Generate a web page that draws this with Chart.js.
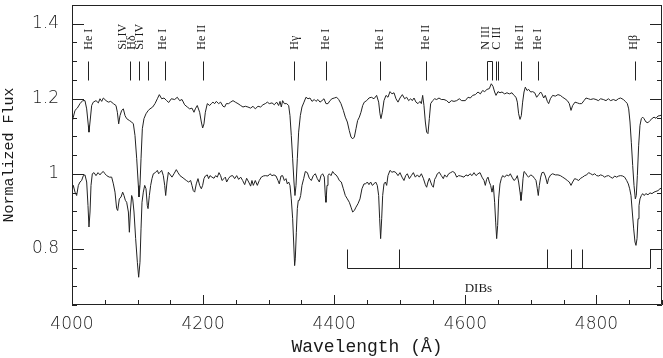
<!DOCTYPE html>
<html>
<head>
<meta charset="utf-8">
<script src="https://cdn.jsdelivr.net/npm/chart.js@4/dist/chart.umd.min.js"></script>
<style>
html,body{margin:0;padding:0;background:#fff;}
canvas{display:block;}
</style>
</head>
<body>
<canvas id="c" width="663" height="358"></canvas>
<script>
// ---- Data ----
const xTickValues = [4000, 4200, 4400, 4600, 4800];
const xTickLabels = ['4000', '4200', '4400', '4600', '4800'];
const yTickValues = [0.8, 1.0, 1.2, 1.4];
const yTickLabels = ['0.8', '1', '1.2', '1.4'];

// [wavelength (Å), normalized flux] — upper spectrum (shown offset)
const upperSpectrum = [
[3999.5,1.133],[4002.0,1.151],[4004.6,1.169],[4008.1,1.175],[4012.2,1.187],[4016.3,1.195],[4019.8,1.195],[4022.4,1.173],[4024.9,1.129],[4025.9,1.111],[4027.5,1.138],[4030.0,1.182],[4032.5,1.191],[4036.6,1.195],[4040.2,1.189],[4042.7,1.200],[4045.3,1.193],[4047.8,1.202],[4051.9,1.195],[4055.4,1.191],[4059.0,1.193],[4063.1,1.187],[4067.1,1.182],[4069.2,1.164],[4071.2,1.133],[4073.2,1.155],[4075.8,1.169],[4078.3,1.173],[4080.9,1.155],[4083.4,1.147],[4087.5,1.142],[4091.0,1.138],[4093.6,1.133],[4096.1,1.102],[4098.7,1.040],[4101.2,0.969],[4102.2,0.938],[4103.7,0.969],[4105.3,1.040],[4107.3,1.120],[4109.8,1.147],[4112.9,1.160],[4116.4,1.169],[4119.0,1.173],[4123.1,1.178],[4126.6,1.187],[4130.2,1.200],[4133.2,1.211],[4136.8,1.200],[4140.4,1.202],[4144.4,1.195],[4147.5,1.190],
[4151.5,1.200],[4156.6,1.198],[4160.6,1.204],[4164.2,1.195],[4167.8,1.198],[4171.8,1.184],[4175.9,1.178],[4179.5,1.173],[4183.0,1.175],[4186.1,1.164],[4188.1,1.173],[4191.1,1.182],[4194.7,1.164],[4197.3,1.138],[4199.3,1.122],[4201.3,1.133],[4203.4,1.164],[4206.4,1.187],[4210.0,1.182],[4212.5,1.187],[4215.0,1.191],[4217.6,1.187],[4220.1,1.193],[4223.7,1.187],[4226.7,1.191],[4230.3,1.180],[4232.8,1.178],[4235.4,1.187],[4238.9,1.187],[4242.0,1.191],[4245.6,1.195],[4249.1,1.191],[4253.2,1.187],[4257.3,1.182],[4260.8,1.178],[4264.4,1.180],[4268.4,1.178],[4272.5,1.175],[4276.1,1.180],[4279.6,1.173],[4283.7,1.180],[4287.8,1.178],[4291.3,1.184],[4294.9,1.187],
[4298.0,1.191],[4301.0,1.187],[4305.1,1.189],[4308.6,1.184],[4312.2,1.191],[4315.2,1.182],[4317.3,1.193],[4319.3,1.178],[4321.3,1.195],[4323.9,1.187],[4327.4,1.187],[4330.5,1.182],[4332.5,1.155],[4334.5,1.102],[4336.6,1.040],[4338.6,0.978],[4340.1,0.942],[4341.7,0.969],[4343.7,1.040],[4345.7,1.111],[4348.3,1.155],[4350.8,1.178],[4353.9,1.191],[4356.9,1.204],[4360.0,1.200],[4363.0,1.202],[4366.1,1.193],[4369.6,1.198],[4372.2,1.193],[4375.2,1.198],[4378.3,1.191],[4381.3,1.195],[4384.4,1.200],[4387.4,1.187],[4390.5,1.187],[4393.5,1.195],[4396.6,1.200],[4400.1,1.202],[4403.7,1.204],[4406.8,1.198],[4410.3,1.187],[4413.9,1.169],[4416.9,1.151],[4420.0,1.138],[4423.0,1.115],[4425.6,1.098],[4428.1,1.093],[4430.7,1.098],[4433.2,1.120],[4435.7,1.142],[4438.3,1.151],[4440.8,1.164],[4443.4,1.182],[4445.9,1.191],
[4449.5,1.195],[4453.0,1.202],[4456.6,1.204],[4460.7,1.200],[4464.7,1.209],[4467.8,1.191],[4469.8,1.160],[4471.3,1.147],[4473.4,1.164],[4475.9,1.195],[4479.0,1.209],[4482.0,1.204],[4485.1,1.219],[4488.1,1.213],[4491.2,1.216],[4494.2,1.200],[4497.3,1.191],[4500.3,1.202],[4503.9,1.211],[4507.4,1.200],[4510.5,1.204],[4513.5,1.195],[4516.6,1.200],[4519.1,1.195],[4521.7,1.202],[4524.7,1.191],[4527.8,1.187],[4530.8,1.193],[4532.9,1.187],[4534.9,1.209],[4536.9,1.182],[4539.0,1.138],[4541.0,1.111],[4543.0,1.107],[4545.1,1.147],[4547.1,1.187],[4550.2,1.195],[4553.2,1.200],[4556.3,1.198],[4559.8,1.202],[4563.4,1.198],[4567.4,1.198],[4571.5,1.195],[4575.1,1.189],[4578.6,1.195],[4582.7,1.193],[4586.8,1.195],[4590.8,1.200],[4594.4,1.195],
[4600.0,1.195],[4604.1,1.204],[4607.6,1.202],[4611.2,1.209],[4615.2,1.211],[4619.3,1.218],[4622.9,1.213],[4626.4,1.222],[4629.5,1.219],[4633.0,1.225],[4636.6,1.227],[4639.6,1.240],[4642.2,1.233],[4644.7,1.218],[4646.8,1.209],[4649.8,1.219],[4652.9,1.216],[4655.9,1.218],[4660.0,1.213],[4663.5,1.216],[4667.1,1.213],[4671.2,1.216],[4674.2,1.209],[4677.3,1.204],[4679.3,1.191],[4681.3,1.160],[4683.4,1.145],[4685.4,1.155],[4687.4,1.191],[4689.5,1.218],[4691.5,1.231],[4694.1,1.222],[4696.6,1.225],[4699.7,1.218],[4702.7,1.219],[4705.8,1.216],[4708.8,1.204],[4711.9,1.211],[4714.9,1.218],[4716.9,1.213],[4719.5,1.202],[4722.0,1.209],[4725.1,1.193],[4727.1,1.187],[4729.7,1.200],[4733.2,1.209],[4737.3,1.207],[4741.3,1.211],[4744.9,1.209],
[4748.5,1.204],[4752.0,1.200],[4755.6,1.195],[4758.6,1.187],[4761.2,1.169],[4763.7,1.182],[4767.3,1.191],[4770.8,1.189],[4773.9,1.187],[4777.5,1.187],[4781.0,1.195],[4784.1,1.202],[4787.6,1.200],[4791.2,1.198],[4795.3,1.200],[4799.3,1.198],[4802.9,1.195],[4806.4,1.200],[4810.5,1.198],[4814.6,1.195],[4818.1,1.200],[4821.7,1.195],[4825.8,1.198],[4829.8,1.195],[4833.4,1.200],[4836.9,1.202],[4841.0,1.198],[4844.1,1.193],[4847.1,1.187],[4849.2,1.173],[4851.2,1.138],[4853.2,1.084],[4855.3,1.022],[4857.3,0.969],[4859.3,0.933],[4860.8,0.942],[4862.4,0.995],[4864.4,1.076],[4866.4,1.129],[4868.5,1.147],[4870.5,1.151],[4872.5,1.147],[4875.6,1.138],[4878.6,1.136],[4881.7,1.142],[4884.7,1.147],[4887.8,1.151],[4890.8,1.148],[4893.9,1.154],[4896.9,1.155],[4900.0,1.157]
];

// [wavelength (Å), normalized flux] — lower spectrum
const lowerSpectrum = [
[3999.5,0.951],[4002.0,0.969],[4004.6,0.951],[4007.1,0.942],[4009.7,0.969],[4012.2,0.978],[4014.7,0.982],[4017.3,0.995],[4019.8,0.997],[4022.4,0.978],[4024.4,0.915],[4025.9,0.858],[4027.5,0.898],[4029.0,0.969],[4031.0,1.000],[4033.6,1.003],[4036.6,0.995],[4039.7,1.003],[4042.7,0.997],[4045.3,1.003],[4047.8,1.006],[4050.3,1.000],[4052.9,0.995],[4056.9,0.991],[4060.5,0.991],[4063.1,0.973],[4065.6,0.951],[4068.1,0.907],[4069.7,0.902],[4072.2,0.933],[4074.8,0.938],[4077.3,0.951],[4079.3,0.942],[4081.4,0.929],[4083.4,0.924],[4086.0,0.898],[4087.5,0.844],[4089.0,0.898],[4091.0,0.942],[4092.6,0.933],[4094.6,0.898],[4097.1,0.827],[4099.7,0.764],[4101.7,0.724],[4103.7,0.764],[4105.3,0.853],[4106.8,0.924],[4108.8,0.951],[4110.9,0.969],[4112.9,0.960],[4114.9,0.915],[4116.0,0.907],[4118.0,0.942],[4120.0,0.969],[4122.0,0.987],[4124.1,1.000],[4127.1,1.003],[4130.2,1.009],[4132.2,1.000],[4134.2,1.004],[4136.8,1.009],[4139.3,0.995],[4141.4,0.969],[4142.9,0.942],[4144.9,0.978],[4147.0,1.004],
[4152.5,0.991],[4155.6,1.000],[4159.1,1.011],[4161.7,1.003],[4164.7,0.995],[4167.8,0.991],[4170.8,0.987],[4174.4,0.982],[4177.9,0.978],[4181.0,0.982],[4183.0,0.969],[4185.0,0.955],[4187.1,0.951],[4189.6,0.973],[4192.2,0.987],[4194.7,0.969],[4197.3,0.960],[4199.3,0.969],[4201.3,0.987],[4203.4,0.994],[4206.4,0.997],[4208.4,0.987],[4210.5,0.995],[4213.5,0.991],[4216.6,0.988],[4219.1,0.995],[4221.7,0.991],[4224.2,1.003],[4226.7,0.995],[4228.8,0.982],[4231.8,0.987],[4233.9,0.991],[4235.9,0.978],[4239.0,0.988],[4242.0,0.994],[4245.1,0.995],[4248.1,0.987],[4251.2,0.995],[4254.2,0.985],[4257.3,0.991],[4260.3,0.982],[4263.4,0.971],[4266.4,0.988],[4269.5,0.978],[4272.5,0.967],[4274.5,0.982],[4276.6,0.969],[4279.6,0.982],[4282.7,0.969],[4285.7,0.982],[4288.8,0.991],[4291.8,0.994],[4294.9,0.995],
[4298.9,0.994],[4302.0,1.000],[4305.1,0.995],[4308.1,0.997],[4311.2,0.994],[4314.2,0.982],[4316.2,0.973],[4318.8,0.994],[4321.3,0.995],[4323.9,0.982],[4326.4,0.987],[4328.4,0.973],[4330.5,0.978],[4332.5,0.969],[4334.5,0.933],[4336.6,0.880],[4338.1,0.818],[4339.6,0.755],[4340.6,0.773],[4342.2,0.844],[4343.7,0.907],[4345.2,0.929],[4346.8,0.929],[4348.8,0.942],[4350.8,0.969],[4353.4,0.987],[4355.9,1.006],[4359.0,1.003],[4362.0,0.988],[4365.1,0.982],[4368.1,0.995],[4371.2,1.000],[4374.2,0.987],[4377.3,0.978],[4379.8,0.995],[4382.3,1.000],[4384.9,0.991],[4386.4,0.942],[4387.4,0.924],[4389.0,0.969],[4390.5,0.995],[4392.5,1.000],[4395.1,0.995],[4397.6,1.006],[4400.1,1.000],[4402.7,0.997],[4405.2,0.991],[4407.8,0.982],[4410.8,0.978],[4413.9,0.960],[4416.9,0.942],[4420.0,0.933],[4423.0,0.924],[4425.6,0.911],[4428.1,0.898],[4430.7,0.902],[4433.2,0.911],[4436.2,0.920],[4439.3,0.933],[4442.3,0.960],[4445.4,0.973],
[4447.9,0.973],[4450.5,0.978],[4453.0,0.971],[4455.6,0.978],[4458.1,0.969],[4460.7,0.973],[4463.2,0.978],[4465.7,0.969],[4467.8,0.942],[4469.3,0.880],[4470.8,0.827],[4472.4,0.880],[4473.9,0.942],[4475.9,0.973],[4478.0,0.978],[4480.0,0.969],[4482.0,0.995],[4485.1,1.009],[4488.1,1.004],[4491.2,1.006],[4494.2,1.003],[4497.3,0.995],[4500.3,1.003],[4503.4,0.991],[4506.4,0.982],[4509.0,0.995],[4511.5,1.000],[4514.6,0.987],[4517.6,0.995],[4520.7,1.003],[4523.7,0.991],[4526.8,0.997],[4529.8,0.991],[4532.9,1.000],[4535.9,0.988],[4539.0,0.971],[4541.0,0.964],[4543.0,0.978],[4545.1,0.988],[4547.1,0.978],[4549.1,0.969],[4551.2,0.964],[4553.2,0.985],[4555.2,0.991],[4557.3,1.000],[4560.3,1.004],[4563.4,0.995],[4566.4,0.987],[4568.5,0.997],[4571.5,0.991],[4574.6,1.000],[4577.6,1.003],[4580.7,1.006],[4583.7,1.003],[4586.8,0.991],[4589.8,0.995],[4592.9,0.994],
[4597.9,0.991],[4601.0,0.997],[4604.1,0.994],[4607.1,1.000],[4610.2,0.995],[4613.2,1.003],[4616.3,0.995],[4619.3,1.000],[4622.4,1.003],[4625.4,0.991],[4628.5,0.982],[4630.5,0.969],[4632.5,0.985],[4634.6,0.991],[4636.6,0.978],[4638.6,0.969],[4640.7,0.951],[4642.7,0.969],[4644.7,0.924],[4646.3,0.871],[4647.8,0.827],[4649.3,0.862],[4650.8,0.933],[4652.9,0.973],[4654.9,0.987],[4656.9,0.995],[4660.0,0.991],[4663.0,0.997],[4666.1,0.994],[4668.6,1.000],[4671.2,0.991],[4674.2,0.982],[4677.3,0.987],[4679.3,0.995],[4681.3,0.978],[4683.4,0.951],[4684.9,0.929],[4686.4,0.951],[4688.0,0.987],[4689.5,1.006],[4691.5,1.003],[4694.1,0.995],[4696.6,0.991],[4699.7,0.997],[4702.7,0.994],[4705.8,0.987],[4707.8,0.982],[4709.8,0.960],[4711.3,0.942],[4712.9,0.969],[4714.9,0.991],[4716.9,1.003],[4719.5,1.004],[4722.0,0.994],[4725.1,0.973],[4727.1,0.988],[4730.2,0.997],[4733.2,1.000],[4737.3,0.997],[4741.3,0.997],[4744.9,0.995],
[4748.5,0.991],[4752.0,0.987],[4755.6,0.982],[4758.6,0.978],[4761.2,0.969],[4763.7,0.978],[4766.8,0.987],[4769.8,0.985],[4772.9,0.982],[4775.9,0.988],[4779.0,0.991],[4782.0,0.995],[4785.1,0.997],[4788.1,1.003],[4791.2,1.000],[4794.2,0.997],[4797.3,1.000],[4800.3,0.995],[4803.4,0.994],[4806.4,0.997],[4809.5,0.995],[4812.5,0.991],[4815.6,0.994],[4818.6,0.995],[4821.7,0.991],[4824.7,0.988],[4827.8,0.994],[4830.8,0.991],[4833.9,0.994],[4836.9,0.995],[4840.0,0.994],[4843.0,0.991],[4846.1,0.982],[4848.6,0.973],[4850.7,0.960],[4852.7,0.942],[4854.7,0.898],[4856.8,0.853],[4858.8,0.818],[4860.3,0.809],[4861.9,0.827],[4863.4,0.880],[4864.9,0.915],[4866.4,0.933],[4868.5,0.942],[4870.5,0.947],[4872.5,0.942],[4875.6,0.947],[4878.6,0.944],[4881.7,0.949],[4884.7,0.947],[4887.8,0.951],[4890.8,0.953],[4893.9,0.955],[4896.9,0.960],[4900.0,0.962]
];

// Line identifications
const idTickWaves = [4025, 4088.5, 4102, 4115.5, 4142, 4199.5, 4339, 4387, 4470, 4540, 4684.5, 4710.5, 4859];
const nIIIBracket = [4633.5, 4641];
const cIIILines = [4646.5, 4650.3];
const idLabels = ['He I', 'Si IV', 'Hδ', 'Si IV', 'He I', 'He II', 'Hγ', 'He I', 'He I', 'He II', 'N III', 'C III', 'He II', 'He I', 'Hβ'];
const idLabelWaves = [4025.5, 4078, 4091.5, 4104, 4138, 4198, 4339.5, 4387.5, 4470, 4540, 4631, 4648, 4682.5, 4710.5, 4857];
const idTickRange = [1.25, 1.30];
const idLabelBase = 1.331;

// Diffuse interstellar bands
const dibWaves = [4420, 4499, 4725, 4761, 4778];
const dibEnd = 4881;
const dibRange = [0.75, 0.80];
const dibLabel = 'DIBs';
const dibLabelPos = [4620, 0.694];

// ---- Drawing ----
const INK = '#222';
const TEXT = '#1a1a1a';

const overlay = {
  id: 'overlay',
  afterDraw(chart) {
    const {ctx, chartArea: a, scales: {x, y}} = chart;
    const L = Math.round(a.left), R = Math.round(a.right), T = Math.round(a.top), B = Math.round(a.bottom);
    const px = v => Math.round(x.getPixelForValue(v)) + 0.5;
    const py = v => Math.round(y.getPixelForValue(v)) + 0.5;
    ctx.save();
    ctx.strokeStyle = INK;
    ctx.lineWidth = 1;
    // frame
    ctx.beginPath();
    ctx.moveTo(L + 0.5, T + 0.5); ctx.lineTo(R - 0.5, T + 0.5);
    ctx.lineTo(R - 0.5, B - 0.5); ctx.lineTo(L + 0.5, B - 0.5); ctx.closePath();
    ctx.stroke();
    // x ticks (inward, bottom)
    ctx.beginPath();
    for (let v = x.min; v <= x.max + 1e-6; v += 50) {
      const major = xTickValues.includes(v);
      const xp = px(v);
      ctx.moveTo(xp, B); ctx.lineTo(xp, B - (major ? 10 : 5));
    }
    // y ticks (inward, left and right)
    for (let k = 0; ; k++) {
      const v = +(y.min + k * 0.05).toFixed(3);
      if (v > y.max + 1e-6) break;
      const major = yTickValues.some(t => Math.abs(t - v) < 1e-6);
      const yp = py(v);
      const len = major ? 12 : 5;
      ctx.moveTo(L, yp); ctx.lineTo(L + len, yp);
      ctx.moveTo(R, yp); ctx.lineTo(R - len, yp);
    }
    ctx.stroke();

    // line identification ticks
    const y0 = py(idTickRange[0]), y1 = py(idTickRange[1]);
    ctx.beginPath();
    idTickWaves.forEach(w => { const xp = px(w); ctx.moveTo(xp, y0); ctx.lineTo(xp, y1); });
    cIIILines.forEach(w => { const xp = px(w); ctx.moveTo(xp, y0); ctx.lineTo(xp, y1); });
    ctx.moveTo(px(nIIIBracket[0]), y0); ctx.lineTo(px(nIIIBracket[0]), y1);
    ctx.lineTo(px(nIIIBracket[1]), y1); ctx.lineTo(px(nIIIBracket[1]), y0);
    ctx.stroke();

    // labels
    ctx.fillStyle = TEXT;
    ctx.font = '12px "Liberation Serif", serif';
    ctx.textAlign = 'left';
    ctx.textBaseline = 'middle';
    idLabels.forEach((t, i) => {
      ctx.save();
      ctx.translate(x.getPixelForValue(idLabelWaves[i]), y.getPixelForValue(idLabelBase));
      ctx.rotate(-Math.PI / 2);
      ctx.fillText(t, 0, 0);
      ctx.restore();
    });

    // DIB bracket
    const d0 = py(dibRange[0]), d1 = py(dibRange[1]);
    ctx.beginPath();
    ctx.moveTo(px(dibWaves[0]), d0); ctx.lineTo(px(dibEnd), d0);
    ctx.lineTo(px(dibEnd), d1); ctx.lineTo(px(x.max), d1);
    dibWaves.forEach(w => { const xp = px(w); ctx.moveTo(xp, d0); ctx.lineTo(xp, d1); });
    ctx.stroke();
    ctx.font = '13px "Liberation Serif", serif';
    ctx.textAlign = 'center';
    ctx.fillText(dibLabel, x.getPixelForValue(dibLabelPos[0]), y.getPixelForValue(dibLabelPos[1]));
    ctx.restore();
  }
};

const toPts = arr => arr.map(([w, f]) => ({x: w, y: f}));

new Chart(document.getElementById('c'), {
  type: 'scatter',
  data: {
    datasets: [
      {data: toPts(upperSpectrum), showLine: true, pointRadius: 0, borderColor: INK, borderWidth: 1, tension: 0},
      {data: toPts(lowerSpectrum), showLine: true, pointRadius: 0, borderColor: INK, borderWidth: 1, tension: 0}
    ]
  },
  options: {
    responsive: false,
    animation: false,
    events: [],
    layout: {padding: {top: 5, right: 1, left: 0, bottom: 0}},
    plugins: {legend: {display: false}, tooltip: {enabled: false}},
    scales: {
      x: {
        type: 'linear', min: 4000, max: 4900,
        grid: {display: false, drawTicks: false},
        border: {display: false},
        afterBuildTicks: s => { s.ticks = xTickValues.map(v => ({value: v})); },
        afterFit: s => { s.height = 53; s.paddingLeft = 0; s.paddingRight = 0; },
        ticks: {
          padding: 9, color: TEXT, autoSkip: false, maxRotation: 0,
          font: {family: 'DejaVu Sans', size: 17, weight: '200'},
          callback: (v, i) => xTickLabels[i]
        },
        title: {display: true, text: 'Wavelength (Å)', color: TEXT,
          font: {family: 'Liberation Mono', size: 18}, padding: {top: 0, bottom: 0}}
      },
      y: {
        type: 'linear', min: 0.65, max: 1.45,
        grid: {display: false, drawTicks: false},
        border: {display: false},
        afterBuildTicks: s => { s.ticks = yTickValues.map(v => ({value: v})); },
        afterFit: s => { s.width = 72; s.paddingTop = 0; s.paddingBottom = 0; },
        ticks: {
          padding: 13, color: TEXT, autoSkip: false,
          font: {family: 'DejaVu Sans', size: 17, weight: '200'},
          callback: (v, i) => yTickLabels[i]
        },
        title: {display: true, text: 'Normalized Flux', color: TEXT,
          font: {family: 'Liberation Mono', size: 15}, padding: {top: 0, bottom: 0}}
      }
    }
  },
  plugins: [overlay]
});
</script>
</body>
</html>
